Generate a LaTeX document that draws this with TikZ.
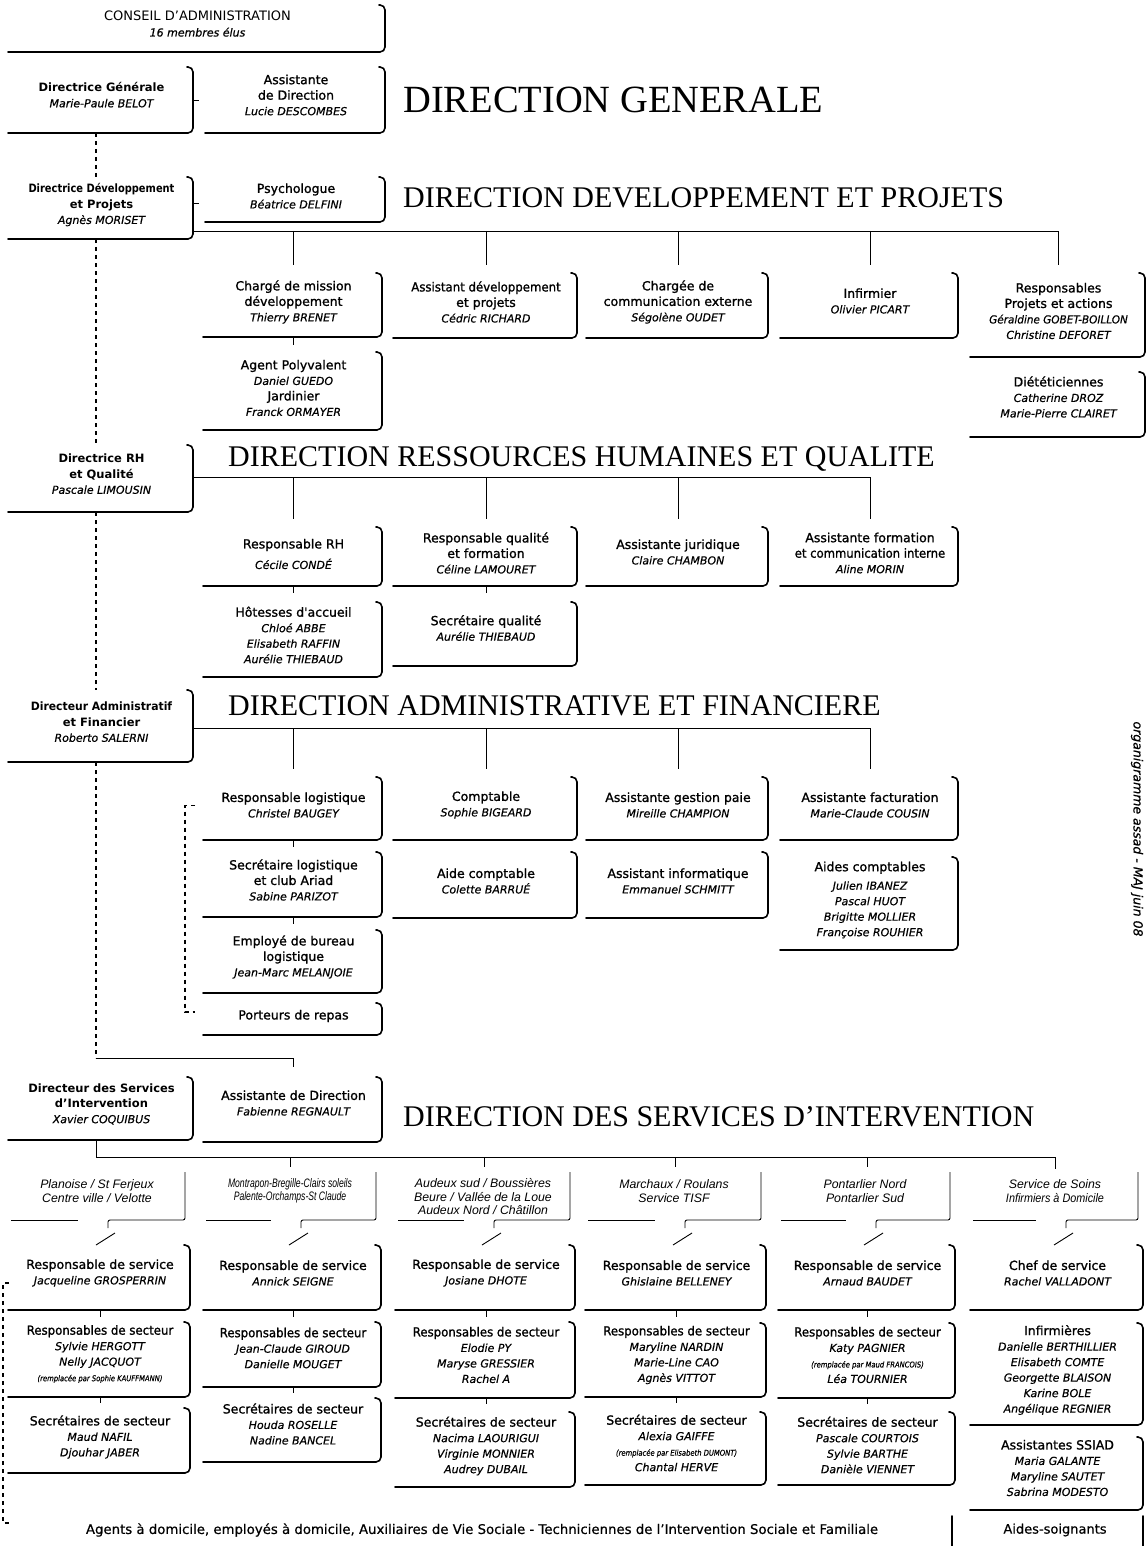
\documentclass[tikz,border=0pt]{standalone}
\usepackage{fontspec}
\usepackage{graphicx}
\setmainfont{DejaVu Sans}
\newfontfamily\ttlfont{Liberation Serif}
\newfontfamily\arialf{Liberation Sans}
\newfontfamily\semib[FakeBold=1.2]{DejaVu Sans}
\newfontfamily\nmfont[FakeBold=0.5]{DejaVu Sans}
\newcommand\dirh[1]{{\normalfont\bfseries\fontsize{11.5}{15}\selectfont #1}}
\newcommand\nme[1]{{\nmfont\itshape\fontsize{11}{15}\selectfont #1}}
\newcommand\smnm[1]{{\nmfont\itshape\fontsize{8}{12}\selectfont\scalebox{0.85}[1]{#1}}}
\newcommand\cnd[1]{\scalebox{0.86}[1]{#1}}
\newcommand\cndl[1]{\scalebox{0.94}[1]{#1}}
\tikzset{
 brd/.style={line width=1.6pt, rounded corners=5pt, line cap=round},
 bus/.style={line width=0.9pt},
 dsh/.style={line width=1.1pt, dash pattern=on 4pt off 4pt},
 frm/.style={inner sep=0pt, outer sep=0pt, rectangle},
 txt/.style={align=center, inner sep=0pt, font=\semib\fontsize{12.5}{15.5}\selectfont},
 ttl/.style={font=\ttlfont\fontsize{30}{30}\selectfont, inner sep=0pt, anchor=base west},
 lbl/.style={align=center, inner sep=0pt, font=\arialf\itshape\fontsize{12.3}{13.5}\selectfont},
}
% name, x1, y1, x2, y2, text-centre-y, text
\newcommand\obox[7]{%
 \node[frm, minimum width={(#4-#2)*1pt}, minimum height={(#5-#3)*1pt}] (#1) at ({(#2+#4)/2},{(#3+#5)/2}) {};
 \node[txt] (#1t) at ({(#2+#4)/2},#6) {#7};
 \draw[brd] ([xshift=-6pt]#1.north east) -- (#1.north east) -- (#1.south east) -- ([xshift=-2pt]#1.south west);
}
\newcommand\labfr[3]{%
 \draw[bus] ({#2+1},1220) -- ({#1-22},1220);
 \draw[bus, rounded corners=2pt] ({#1+8},1228) -- ({#1+8},1220) -- ({#3-5},1220) -- ({#3-5},1172);
 \draw[bus] ({#1+15},1233) -- ({#1-4},1245);
}
\begin{document}
\begin{tikzpicture}[x=1pt,y=-1pt]
\useasboundingbox (0,0) rectangle (1147,1546);
\fill[white] (0,0) rectangle (1147,1546);
\coordinate (sp) at (96,0);
% ---------- top
\obox{ca}{10}{5}{385}{52}{24}{{\normalfont\fontsize{13}{16}\selectfont CONSEIL D'ADMINISTRATION}\\\nme{16 membres élus}}
\obox{dg}{10}{67}{193}{133}{95}{\dirh{Directrice Générale}\\\nme{Marie-Paule BELOT}}
\obox{ad}{207}{67}{385}{133}{95}{Assistante\\de Direction\\\nme{Lucie DESCOMBES}}
\node[ttl, font=\ttlfont\fontsize{38.5}{38}\selectfont] (tdg) at (403,113) {DIRECTION GENERALE};
\draw[bus] (dg.east) -- ([xshift=6pt]dg.east);
% ---------- developpement
\obox{dd}{10}{177}{193}{239}{205}{\dirh{\cnd{Directrice Développement}}\\\dirh{et Projets}\\\nme{Agnès MORISET}}
\obox{ps}{207}{177}{385}{222}{196}{Psychologue\\\nme{Béatrice DELFINI}}
\node[ttl] (tdev) at (403,208) {DIRECTION DEVELOPPEMENT ET PROJETS};
\draw[bus] ([yshift=5pt]dd.east) -- ([xshift=6pt,yshift=5pt]dd.east);
\obox{c1}{205}{273}{382}{337}{302}{Chargé de mission\\développement\\\nme{Thierry BRENET}}
\obox{c2}{395}{273}{577}{338}{302}{\cndl{Assistant développement}\\et projets\\\nme{Cédric RICHARD}}
\obox{c3}{588}{273}{768}{338}{302}{Chargée de\\communication externe\\\nme{Ségolène OUDET}}
\obox{c4}{782}{273}{958}{338}{301}{Infirmier\\\nme{Olivier PICART}}
\obox{c5}{972}{273}{1145}{357}{311}{Responsables\\Projets et actions\\\nme{\scalebox{0.95}[1]{Géraldine GOBET-BOILLON}}\\\nme{Christine DEFORET}}
\obox{ap}{205}{352}{382}{430}{388}{Agent Polyvalent\\\nme{Daniel GUEDO}\\Jardinier\\\nme{Franck ORMAYER}}
\obox{c6}{972}{372}{1145}{437}{397}{Diététiciennes\\\nme{Catherine DROZ}\\\nme{Marie-Pierre CLAIRET}}
\coordinate (devbus) at (0,231);
\draw[bus] (dd.east |- devbus) -| ([yshift=8pt]c5.north);
\foreach \n in {c1,c2,c3,c4} \draw[bus] (\n.north |- devbus) -- ([yshift=8pt]\n.north);
\draw[bus] (c1.south) -- ([yshift=-8pt]c1.south);
% ---------- RH
\obox{rh}{10}{445}{193}{512}{474}{\dirh{Directrice RH}\\\dirh{et Qualité}\\\nme{Pascale LIMOUSIN}}
\node[ttl] (trh) at (228,466) {DIRECTION RESSOURCES HUMAINES ET QUALITE};
\obox{r1}{205}{527}{382}{586}{554}{Responsable RH\\[5pt]\nme{Cécile CONDÉ}}
\obox{r2}{395}{527}{577}{586}{553}{Responsable qualité\\et formation\\\nme{Céline LAMOURET}}
\obox{r3}{588}{527}{768}{586}{552}{Assistante juridique\\\nme{Claire CHAMBON}}
\obox{r4}{782}{527}{958}{586}{553}{Assistante formation\\\scalebox{0.93}[1]{et communication interne}\\\nme{Aline MORIN}}
\obox{h}{205}{602}{382}{677}{635}{Hôtesses d'accueil\\\nme{Chloé ABBE}\\\nme{Elisabeth RAFFIN}\\\nme{Aurélie THIEBAUD}}
\obox{sq}{395}{602}{577}{666}{628}{Secrétaire qualité\\\nme{Aurélie THIEBAUD}}
\coordinate (rhbus) at (0,477);
\draw[bus] (rh.east |- rhbus) -| ([yshift=8pt]r4.north);
\foreach \n in {r1,r2,r3} \draw[bus] (\n.north |- rhbus) -- ([yshift=8pt]\n.north);
\draw[bus] (r1.south) -- ([yshift=-7pt]r1.south);
\draw[bus] (r2.south) -- ([yshift=-7pt]r2.south);
% ---------- Admin
\obox{da}{10}{690}{193}{762}{722}{\dirh{\cndl{Directeur Administratif}}\\\dirh{et Financier}\\\nme{Roberto SALERNI}}
\node[ttl] (tad) at (228,715) {DIRECTION ADMINISTRATIVE ET FINANCIERE};
\obox{a1}{205}{777}{382}{840}{805}{Responsable logistique\\\nme{Christel BAUGEY}}
\obox{a2}{395}{777}{577}{840}{805}{Comptable\\\nme{Sophie BIGEARD}}
\obox{a3}{588}{777}{768}{840}{805}{Assistante gestion paie\\\nme{Mireille CHAMPION}}
\obox{a4}{782}{777}{958}{840}{805}{Assistante facturation\\\nme{Marie-Claude COUSIN}}
\obox{b1}{205}{852}{382}{917}{880}{Secrétaire logistique\\et club Ariad\\\nme{Sabine PARIZOT}}
\obox{b2}{395}{852}{577}{918}{881}{Aide comptable\\\nme{Colette BARRUÉ}}
\obox{b3}{588}{852}{768}{918}{881}{Assistant informatique\\\nme{Emmanuel SCHMITT}}
\obox{b4}{782}{857}{958}{950}{900}{Aides comptables\\[3pt]\nme{Julien IBANEZ}\\\nme{Pascal HUOT}\\\nme{Brigitte MOLLIER}\\\nme{Françoise ROUHIER}}
\obox{e1}{205}{930}{382}{993}{957}{Employé de bureau\\logistique\\\nme{Jean-Marc MELANJOIE}}
\obox{e2}{205}{1003}{382}{1035}{1016}{Porteurs de repas}
\coordinate (adbus) at (0,728);
\draw[bus] (da.east |- adbus) -| ([yshift=8pt]a4.north);
\foreach \n in {a1,a2,a3} \draw[bus] (\n.north |- adbus) -- ([yshift=8pt]\n.north);
\draw[bus] (a1.south) -- ([yshift=-7pt]a1.south);
\draw[bus] (b1.south) -- ([yshift=-7pt]b1.south);
\draw[dsh] ([xshift=-10pt,yshift=3pt]a1.west) -- ([xshift=-20pt,yshift=3pt]a1.west) -- ([xshift=-20pt,yshift=7pt]e2.west) -- ([xshift=-10pt,yshift=7pt]e2.west);
% ---------- spine
\coordinate (kn) at (96,1058);
\draw[dsh] (sp |- dg.south) -- (sp |- dd.north);
\draw[dsh] (sp |- dd.south) -- (sp |- rh.north);
\draw[dsh] (sp |- rh.south) -- (sp |- da.north);
\draw[dsh] (sp |- da.south) -- (kn);
% ---------- Services
\obox{ds}{10}{1077}{193}{1140}{1104}{\dirh{Directeur des Services}\\\dirh{d'Intervention}\\\nme{Xavier COQUIBUS}}
\obox{as}{205}{1077}{382}{1142}{1103}{Assistante de Direction\\\nme{Fabienne REGNAULT}}
\draw[bus] (kn) -| ([yshift=10pt]as.north);
\node[ttl] (tds) at (403,1126) {DIRECTION DES SERVICES D’INTERVENTION};
\coordinate (sb) at (0,1157);
\coordinate (k2) at (290,1167);
\coordinate (k3) at (484,1167);
\coordinate (k4) at (675,1167);
\coordinate (k5) at (867,1167);
\coordinate (k6) at (1055,1169);
\draw[bus] (sp |- ds.south) -- (sp |- sb) -| (k6);
\foreach \n in {k2,k3,k4,k5} \draw[bus] (\n |- sb) -- (\n);
\node[lbl] (lab1) at (97,1191) {Planoise / St Ferjeux\\Centre ville / Velotte};
\node[lbl] (lab2) at (290,1191) {\scalebox{0.7}[1]{Montrapon-Bregille-Clairs soleils}\\\scalebox{0.7}[1]{Palente-Orchamps-St Claude}};
\node[lbl] (lab3) at (483,1197) {Audeux sud / Boussières\\Beure / Vallée de la Loue\\Audeux Nord / Châtillon};
\node[lbl] (lab4) at (674,1191) {Marchaux / Roulans\\Service TISF};
\node[lbl] (lab5) at (865,1191) {Pontarlier Nord\\Pontarlier Sud};
\node[lbl] (lab6) at (1055,1191) {Service de Soins\\\scalebox{0.88}[1]{Infirmiers à Domicile}};
\labfr{100}{10}{190}
\labfr{293}{205}{381}
\labfr{486}{397}{575}
\labfr{677}{587}{766}
\labfr{868}{780}{955}
\labfr{1058}{972}{1143}
\obox{s1}{10}{1245}{190}{1310}{1273}{Responsable de service\\\nme{Jacqueline GROSPERRIN}}
\obox{s2}{205}{1245}{381}{1310}{1273}{Responsable de service\\\nme{Annick SEIGNE}}
\obox{s3}{397}{1245}{575}{1310}{1273}{Responsable de service\\\nme{Josiane DHOTE}}
\obox{s4}{587}{1245}{766}{1310}{1273}{Responsable de service\\\nme{Ghislaine BELLENEY}}
\obox{s5}{780}{1245}{955}{1310}{1273}{Responsable de service\\\nme{Arnaud BAUDET}}
\obox{s6}{972}{1245}{1143}{1310}{1273}{Chef de service\\\nme{Rachel VALLADONT}}
\obox{t1}{10}{1322}{190}{1397}{1354}{\cndl{Responsables de secteur}\\\nme{Sylvie HERGOTT}\\\nme{Nelly JACQUOT}\\\smnm{(remplacée par Sophie KAUFFMANN)}}
\obox{t2}{205}{1322}{381}{1387}{1348}{\cndl{Responsables de secteur}\\\nme{Jean-Claude GIROUD}\\\nme{Danielle MOUGET}}
\obox{t3}{397}{1322}{575}{1398}{1355}{\cndl{Responsables de secteur}\\\nme{Elodie PY}\\\nme{Maryse GRESSIER}\\\nme{Rachel A}}
\obox{t4}{587}{1323}{766}{1397}{1355}{\cndl{Responsables de secteur}\\\nme{Maryline NARDIN}\\\nme{Marie-Line CAO}\\\nme{Agnès VITTOT}}
\obox{t5}{780}{1323}{955}{1398}{1355}{\cndl{Responsables de secteur}\\\nme{Katy PAGNIER}\\\smnm{(remplacée par Maud FRANCOIS)}\\\nme{Léa TOURNIER}}
\obox{t6}{972}{1323}{1143}{1425}{1370}{Infirmières\\\nme{Danielle BERTHILLIER}\\\nme{Elisabeth COMTE}\\\nme{Georgette BLAISON}\\\nme{Karine BOLE}\\\nme{Angélique REGNIER}}
\obox{u1}{10}{1408}{190}{1473}{1437}{Secrétaires de secteur\\\nme{Maud NAFIL}\\\nme{Djouhar JABER}}
\obox{u2}{205}{1398}{381}{1462}{1424}{Secrétaires de secteur\\\nme{Houda ROSELLE}\\\nme{Nadine BANCEL}}
\obox{u3}{397}{1412}{575}{1487}{1446}{Secrétaires de secteur\\\nme{Nacima LAOURIGUI}\\\nme{Virginie MONNIER}\\\nme{Audrey DUBAIL}}
\obox{u4}{587}{1412}{766}{1485}{1443}{Secrétaires de secteur\\\nme{Alexia GAIFFE}\\\smnm{(remplacée par Elisabeth DUMONT)}\\\nme{Chantal HERVE}}
\obox{u5}{780}{1412}{955}{1485}{1445}{Secrétaires de secteur\\\nme{Pascale COURTOIS}\\\nme{Sylvie BARTHE}\\\nme{Danièle VIENNET}}
\obox{u6}{972}{1437}{1143}{1510}{1468}{Assistantes SSIAD\\\nme{Maria GALANTE}\\\nme{Maryline SAUTET}\\\nme{Sabrina MODESTO}}
\foreach \i in {1,...,5} {
 \draw[bus] (s\i.south) -- ([yshift=-7pt]s\i.south);
 \draw[bus] (t\i.south) -- ([yshift=-6pt]t\i.south);
}
\draw[dsh] (9,1283) -- (3,1283) -- (3,1523) -- (9,1523);
% ---------- bottom
\node[inner sep=0pt, font=\nmfont\fontsize{13.3}{15}\selectfont] (ag) at (482,1530) {Agents à domicile, employés à domicile, Auxiliaires de Vie Sociale - Techniciennes de l’Intervention Sociale et Familiale};
\node[inner sep=0pt, font=\nmfont\fontsize{13}{15}\selectfont] (aides) at (1055,1530) {Aides-soignants};
\coordinate (g1) at (952,1516);
\coordinate (g2) at (1143,1516);
\draw[brd] (g1) -- (g1 |- 0,1546);
\draw[brd] (g2) -- (g2 |- 0,1546);
% ---------- side note
\node[rotate=-90, inner sep=0pt, font=\nmfont\itshape\fontsize{12.5}{14}\selectfont] (maj) at (1137,829) {organigramme assad - MAJ juin 08};
\end{tikzpicture}
\end{document}
